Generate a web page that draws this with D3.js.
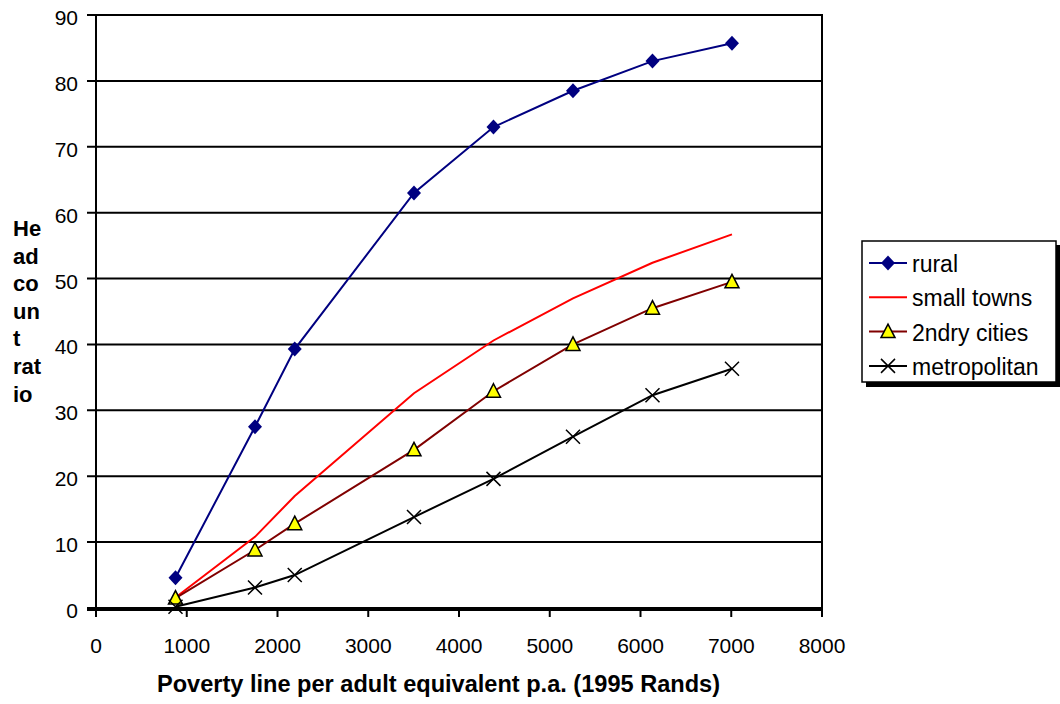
<!DOCTYPE html>
<html>
<head>
<meta charset="utf-8">
<script src="https://cdn.jsdelivr.net/npm/d3@7"></script>
<style>
  body { margin: 0; background: #fff; }
  svg { font-family: "Liberation Sans", Arial, sans-serif; }
</style>
</head>
<body>
<svg id="chart" width="1060" height="704"></svg>
<script>
// poverty line per adult equivalent (1995 Rands)
var povertyLines = [876, 1752, 2190, 3504, 4380, 5256, 6132, 7008];
var rural        = [4.6, 27.5, 39.3, 63.0, 73.0, 78.5, 83.0, 85.7];
var smallTowns   = [1.6, 10.8, 17.0, 32.6, 40.6, 47.0, 52.4, 56.7];
var secondCities = [1.5, 8.8, 12.8, 24.0, 32.9, 40.0, 45.5, 49.5];
var metropolitan = [0.2, 3.1, 5.0, 13.8, 19.6, 26.0, 32.3, 36.3];
var xTicks = [0, 1000, 2000, 3000, 4000, 5000, 6000, 7000, 8000];
var yTicks = [0, 10, 20, 30, 40, 50, 60, 70, 80, 90];
var yTitle = ["He", "ad", "co", "un", "t", "rat", "io"];

var series = [
  {name: "rural", values: rural, color: "#000080", marker: "diamond"},
  {name: "small towns", values: smallTowns, color: "#ff0000", marker: null},
  {name: "2ndry cities", values: secondCities, color: "#800000", marker: "triangle"},
  {name: "metropolitan", values: metropolitan, color: "#000000", marker: "cross"}
];

var svg = d3.select("#chart");
var plotLeft = 96, plotRight = 822, plotTop = 15, plotBottom = 608;

var x = d3.scaleLinear().domain([0, 8000]).range([plotLeft, plotRight]);
var y = d3.scaleLinear().domain([0, 90]).range([plotBottom, plotTop]);

// gridlines (with tick stubs left of the axis)
svg.append("g").selectAll("line").data(yTicks).enter().append("line")
  .attr("x1", plotLeft - 9).attr("x2", plotRight + 1)
  .attr("y1", function(d){ return y(d); }).attr("y2", function(d){ return y(d); })
  .attr("stroke", "#000").attr("stroke-width", 2);

// y tick labels
svg.append("g").selectAll("text").data(yTicks).enter().append("text")
  .attr("x", 78).attr("y", function(d){ return y(d) + 10; })
  .attr("text-anchor", "end").attr("font-size", 21)
  .text(function(d){ return d; });

// x axis
svg.append("line").attr("x1", plotLeft - 9).attr("x2", plotRight + 1)
  .attr("y1", plotBottom + 2).attr("y2", plotBottom + 2)
  .attr("stroke", "#000").attr("stroke-width", 2);
svg.append("g").selectAll("line").data(xTicks).enter().append("line")
  .attr("x1", function(d){ return x(d); }).attr("x2", function(d){ return x(d); })
  .attr("y1", plotBottom).attr("y2", plotBottom + 9)
  .attr("stroke", "#000").attr("stroke-width", 2);
svg.append("g").selectAll("text").data(xTicks).enter().append("text")
  .attr("x", function(d){ return x(d); }).attr("y", 653)
  .attr("text-anchor", "middle").attr("font-size", 21)
  .text(function(d){ return d; });

// left and right frame
svg.append("line").attr("x1", plotLeft).attr("x2", plotLeft).attr("y1", plotTop).attr("y2", plotBottom + 2)
  .attr("stroke", "#000").attr("stroke-width", 2);
svg.append("line").attr("x1", plotRight).attr("x2", plotRight).attr("y1", plotTop).attr("y2", plotBottom + 2)
  .attr("stroke", "#000").attr("stroke-width", 2);

// axis titles
svg.append("text").attr("x", 157).attr("y", 692)
  .attr("font-size", 23).attr("font-weight", "bold")
  .attr("textLength", 563).attr("lengthAdjust", "spacingAndGlyphs")
  .text("Poverty line per adult equivalent p.a. (1995 Rands)");

svg.append("g").selectAll("text").data(yTitle).enter().append("text")
  .attr("x", 13).attr("y", function(d, i){ return 236 + i * 27.6; })
  .attr("font-size", 22).attr("font-weight", "bold")
  .text(function(d){ return d; });

function drawMarker(g, type, cx, cy, color) {
  if (type === "diamond") {
    g.append("path").attr("d", "M" + cx + "," + (cy - 7.5) + "L" + (cx + 7) + "," + cy +
      "L" + cx + "," + (cy + 7.5) + "L" + (cx - 7) + "," + cy + "Z")
      .attr("fill", color);
  } else if (type === "triangle") {
    g.append("path").attr("d", "M" + cx + "," + (cy - 7.5) + "L" + (cx + 7) + "," + (cy + 6) +
      "L" + (cx - 7) + "," + (cy + 6) + "Z")
      .attr("fill", "#ffff00").attr("stroke", "#000").attr("stroke-width", 1.5);
  } else if (type === "cross") {
    g.append("path").attr("d", "M" + (cx - 7) + "," + (cy - 7) + "L" + (cx + 7) + "," + (cy + 7) +
      "M" + (cx + 7) + "," + (cy - 7) + "L" + (cx - 7) + "," + (cy + 7))
      .attr("stroke", "#000").attr("stroke-width", 1.5).attr("fill", "none");
  }
}

var line = d3.line()
  .x(function(d, i){ return x(povertyLines[i]); })
  .y(function(d){ return y(d); });

series.forEach(function(s) {
  var g = svg.append("g");
  g.append("path").attr("d", line(s.values))
    .attr("fill", "none").attr("stroke", s.color).attr("stroke-width", 2);
  if (s.marker) {
    s.values.forEach(function(v, i) {
      drawMarker(g, s.marker, x(povertyLines[i]), y(v), s.color);
    });
  }
});

// legend
var lg = svg.append("g");
lg.append("rect").attr("x", 866).attr("y", 245).attr("width", 194).attr("height", 142).attr("fill", "#000");
lg.append("rect").attr("x", 862).attr("y", 241).attr("width", 194).attr("height", 141)
  .attr("fill", "#fff").attr("stroke", "#000").attr("stroke-width", 1.5);
series.forEach(function(s, i) {
  var ly = 263 + i * 34.3;
  lg.append("line").attr("x1", 869).attr("x2", 907).attr("y1", ly).attr("y2", ly)
    .attr("stroke", s.color).attr("stroke-width", 2);
  if (s.marker) drawMarker(lg, s.marker, 888, ly, s.color);
  lg.append("text").attr("x", 912).attr("y", ly + 9).attr("font-size", 23).text(s.name);
});
</script>
</body>
</html>
